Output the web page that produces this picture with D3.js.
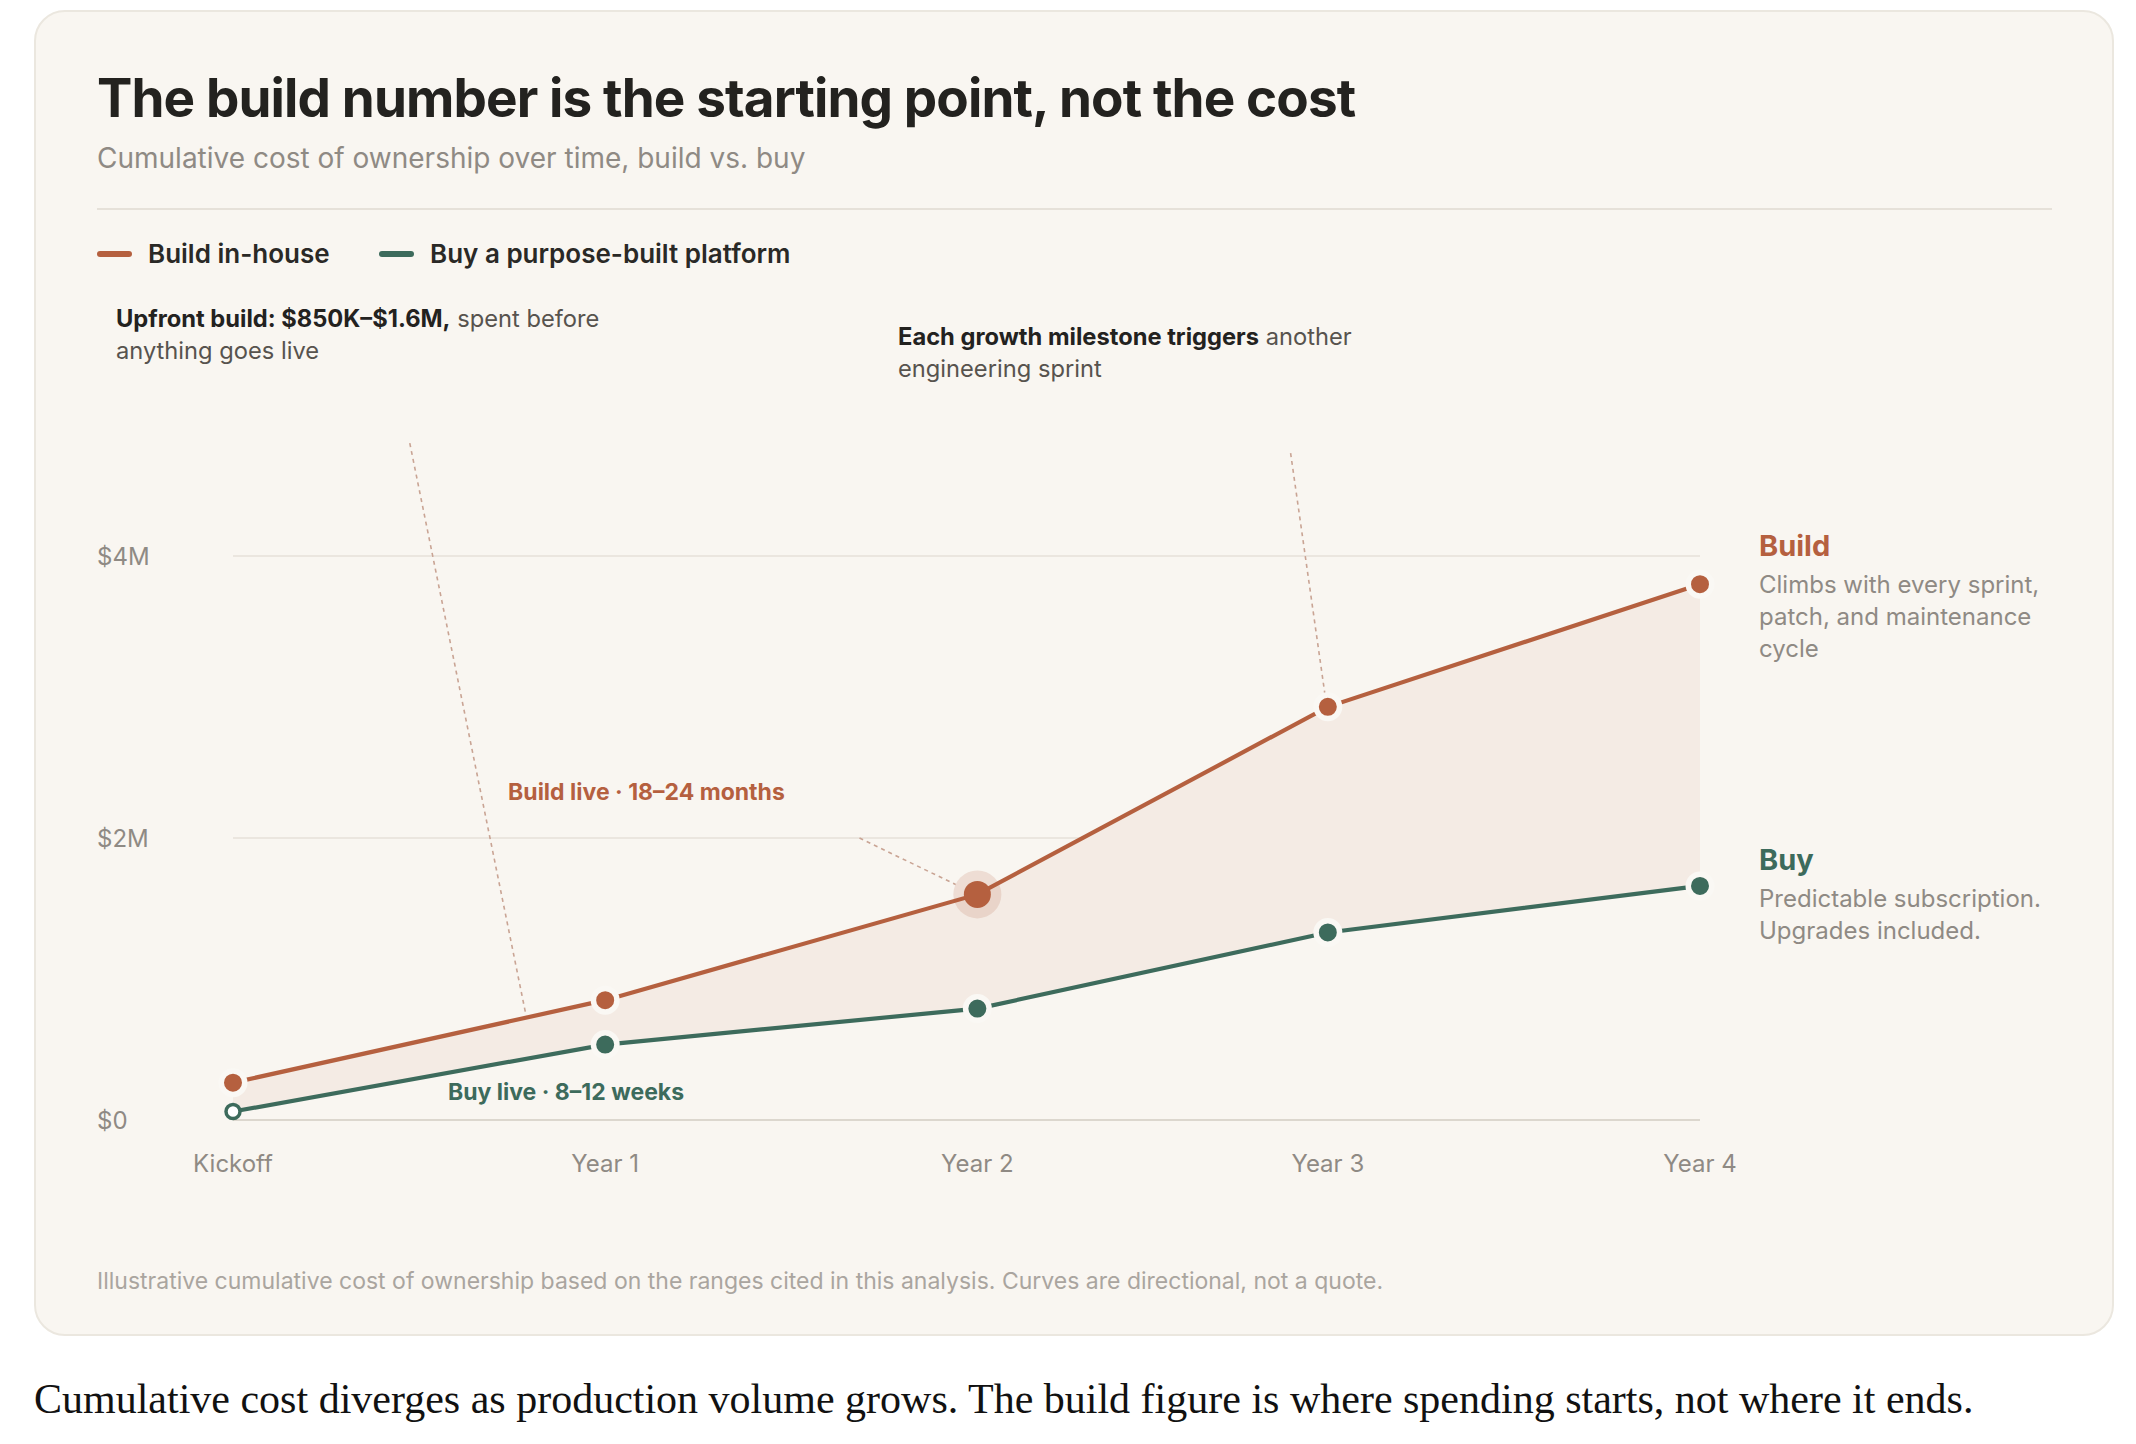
<!DOCTYPE html>
<html>
<head>
<meta charset="utf-8">
<script src="https://cdn.jsdelivr.net/npm/d3@7"></script>
<style>
  body { margin: 0; background: #fff; }
  text { font-family: Inter, "Noto Sans", sans-serif; }
  text.serif { font-family: "Liberation Serif", "DejaVu Serif", serif; }
</style>
</head>
<body>
<div id="chart"></div>
<script>
// ---- data ($M, cumulative) ----
const periods = ['Kickoff', 'Year 1', 'Year 2', 'Year 3', 'Year 4'];
const periodMonths = [0, 12, 24, 35.3, 47.3];
const buildCost = [0.265, 0.85, 1.6, 2.93, 3.80];
const buyCost = [0.06, 0.535, 0.79, 1.33, 1.66];
const yTicks = [0, 2, 4];
const yTickLabels = ['$0', '$2M', '$4M'];
const legendItems = ['Build in-house', 'Buy a purpose-built platform'];

const width = 2136, height = 1444;
const colBuild = '#b5603f', colBuy = '#3d6b5c';
const cardBg = '#f9f6f1';

const svg = d3.select('#chart')
  .append('svg')
  .attr('width', width)
  .attr('height', height);

// card
svg.append('rect')
  .attr('x', 35).attr('y', 11)
  .attr('width', 2078).attr('height', 1324)
  .attr('rx', 30)
  .attr('fill', cardBg)
  .attr('stroke', '#ebe7df')
  .attr('stroke-width', 2);

// header
svg.append('text')
  .attr('x', 97).attr('y', 117)
  .attr('font-size', 53).attr('font-weight', 700)
  .attr('letter-spacing', -0.88)
  .attr('fill', '#23221f')
  .text('The build number is the starting point, not the cost');

svg.append('text')
  .attr('x', 97).attr('y', 168)
  .attr('font-size', 28)
  .attr('fill', '#8f8a84')
  .text('Cumulative cost of ownership over time, build vs. buy');

svg.append('line')
  .attr('x1', 97).attr('x2', 2052)
  .attr('y1', 209).attr('y2', 209)
  .attr('stroke', '#e6e1d9').attr('stroke-width', 2);

// legend
const legend = svg.append('g').attr('transform', 'translate(97, 254)');
const legendX = [0, 282];
legend.selectAll('g')
  .data(legendItems)
  .enter().append('g')
  .attr('transform', (d, i) => `translate(${legendX[i]}, 0)`)
  .each(function (d, i) {
    const g = d3.select(this);
    g.append('line')
      .attr('x1', 3).attr('x2', 32)
      .attr('stroke', i === 0 ? colBuild : colBuy)
      .attr('stroke-width', 6)
      .attr('stroke-linecap', 'round');
    g.append('text')
      .attr('x', 51).attr('y', 9)
      .attr('font-size', 26).attr('font-weight', 600)
      .attr('fill', '#2a2926')
      .text(d);
  });

// scales
const x = d3.scaleLinear().domain([0, 47.3]).range([233, 1700]);
const y = d3.scaleLinear().domain([0, 4]).range([1120, 556]);

const rows = periods.map((p, i) => ({ p, m: periodMonths[i], build: buildCost[i], buy: buyCost[i] }));

// grid
svg.append('g')
  .selectAll('line')
  .data(yTicks)
  .enter().append('line')
  .attr('x1', x(0)).attr('x2', x(47.3))
  .attr('y1', d => y(d)).attr('y2', d => y(d))
  .attr('stroke', d => d === 0 ? '#dcd7ce' : '#ebe6df')
  .attr('stroke-width', 2);

svg.append('g')
  .selectAll('text')
  .data(yTicks)
  .enter().append('text')
  .attr('x', 97).attr('y', d => y(d))
  .attr('dy', '0.36em')
  .attr('font-size', 24)
  .attr('fill', '#8f8a84')
  .text((d, i) => yTickLabels[i]);

// x labels
svg.append('g')
  .selectAll('text')
  .data(rows)
  .enter().append('text')
  .attr('x', d => x(d.m)).attr('y', 1172)
  .attr('text-anchor', 'middle')
  .attr('font-size', 24)
  .attr('fill', '#8f8a84')
  .text(d => d.p);

// gap area
const area = d3.area()
  .x(d => x(d.m))
  .y0(d => y(d.buy))
  .y1(d => y(d.build));

svg.append('path')
  .datum(rows)
  .attr('d', area)
  .attr('fill', '#f4ebe4');

// leader lines (data coords: [month, $M])
const leaders = [
  [[5.7, 4.8], [9.45, 0.74]],
  [[20.2, 2.0], [23.3, 1.67]],
  [[34.1, 4.73], [35.2, 3.03]]
];
svg.append('g')
  .selectAll('line')
  .data(leaders)
  .enter().append('line')
  .attr('x1', d => x(d[0][0])).attr('y1', d => y(d[0][1]))
  .attr('x2', d => x(d[1][0])).attr('y2', d => y(d[1][1]))
  .attr('stroke', '#c9a494')
  .attr('stroke-width', 1.6)
  .attr('stroke-dasharray', '4 4');

// lines
const lineBuild = d3.line().x(d => x(d.m)).y(d => y(d.build));
const lineBuy = d3.line().x(d => x(d.m)).y(d => y(d.buy));

svg.append('path').datum(rows).attr('d', lineBuild)
  .attr('fill', 'none').attr('stroke', colBuild).attr('stroke-width', 4.2);
svg.append('path').datum(rows).attr('d', lineBuy)
  .attr('fill', 'none').attr('stroke', colBuy).attr('stroke-width', 4.2);

// build-live halo at Year 2
svg.append('circle')
  .attr('cx', x(rows[2].m)).attr('cy', y(rows[2].build))
  .attr('r', 24)
  .attr('fill', colBuild).attr('fill-opacity', 0.16);

// points
svg.append('g')
  .selectAll('circle')
  .data(rows)
  .enter().append('circle')
  .attr('cx', d => x(d.m)).attr('cy', d => y(d.build))
  .attr('r', (d, i) => i === 2 ? 13.5 : 11.75)
  .attr('fill', colBuild)
  .attr('stroke', (d, i) => i === 2 ? 'none' : '#faf8f4')
  .attr('stroke-width', 5.5);

svg.append('g')
  .selectAll('circle')
  .data(rows)
  .enter().append('circle')
  .attr('cx', d => x(d.m)).attr('cy', d => y(d.buy))
  .attr('r', (d, i) => i === 0 ? 7 : 11.75)
  .attr('fill', (d, i) => i === 0 ? '#fff' : colBuy)
  .attr('stroke', (d, i) => i === 0 ? colBuy : '#faf8f4')
  .attr('stroke-width', (d, i) => i === 0 ? 3.5 : 5.5);

// milestone labels
svg.append('text')
  .attr('x', x(8.87)).attr('y', y(2.27))
  .attr('font-size', 23).attr('font-weight', 700)
  .attr('fill', colBuild)
  .text('Build live · 18–24 months');

svg.append('text')
  .attr('x', x(6.93)).attr('y', y(0.142))
  .attr('font-size', 23).attr('font-weight', 700)
  .attr('fill', colBuy)
  .text('Buy live · 8–12 weeks');

// callouts
function callout(px, py, bold, rest, line2) {
  const t = svg.append('text')
    .attr('x', px).attr('y', py)
    .attr('font-size', 23.7)
    .attr('fill', '#57534e');
  t.append('tspan').attr('font-weight', 700).attr('fill', '#23221f').text(bold);
  t.append('tspan').text(rest);
  t.append('tspan').attr('x', px).attr('dy', 32).text(line2);
}
callout(116, 327, 'Upfront build: $850K–$1.6M,', ' spent before', 'anything goes live');
callout(898, 345, 'Each growth milestone triggers', ' another', 'engineering sprint');

// end labels
function endLabel(py, title, color, lines) {
  const lx = x(47.3) + 59;
  svg.append('text')
    .attr('x', lx).attr('y', py)
    .attr('font-size', 29).attr('font-weight', 700)
    .attr('fill', color)
    .text(title);
  const t = svg.append('text')
    .attr('x', lx).attr('y', py + 37)
    .attr('font-size', 24)
    .attr('fill', '#8f8a84');
  lines.forEach((l, i) => t.append('tspan').attr('x', lx).attr('dy', i ? 32 : 0).text(l));
}
endLabel(y(4.0), 'Build', colBuild, ['Climbs with every sprint,', 'patch, and maintenance', 'cycle']);
endLabel(y(1.775), 'Buy', colBuy, ['Predictable subscription.', 'Upgrades included.']);

// footnote
svg.append('text')
  .attr('x', 97).attr('y', 1289)
  .attr('font-size', 23)
  .attr('fill', '#aaa59f')
  .text('Illustrative cumulative cost of ownership based on the ranges cited in this analysis. Curves are directional, not a quote.');

// caption under the card
svg.append('text')
  .attr('class', 'serif')
  .attr('x', 34).attr('y', 1413)
  .attr('font-size', 42)
  .attr('fill', '#111')
  .text('Cumulative cost diverges as production volume grows. The build figure is where spending starts, not where it ends.');
</script>
</body>
</html>
